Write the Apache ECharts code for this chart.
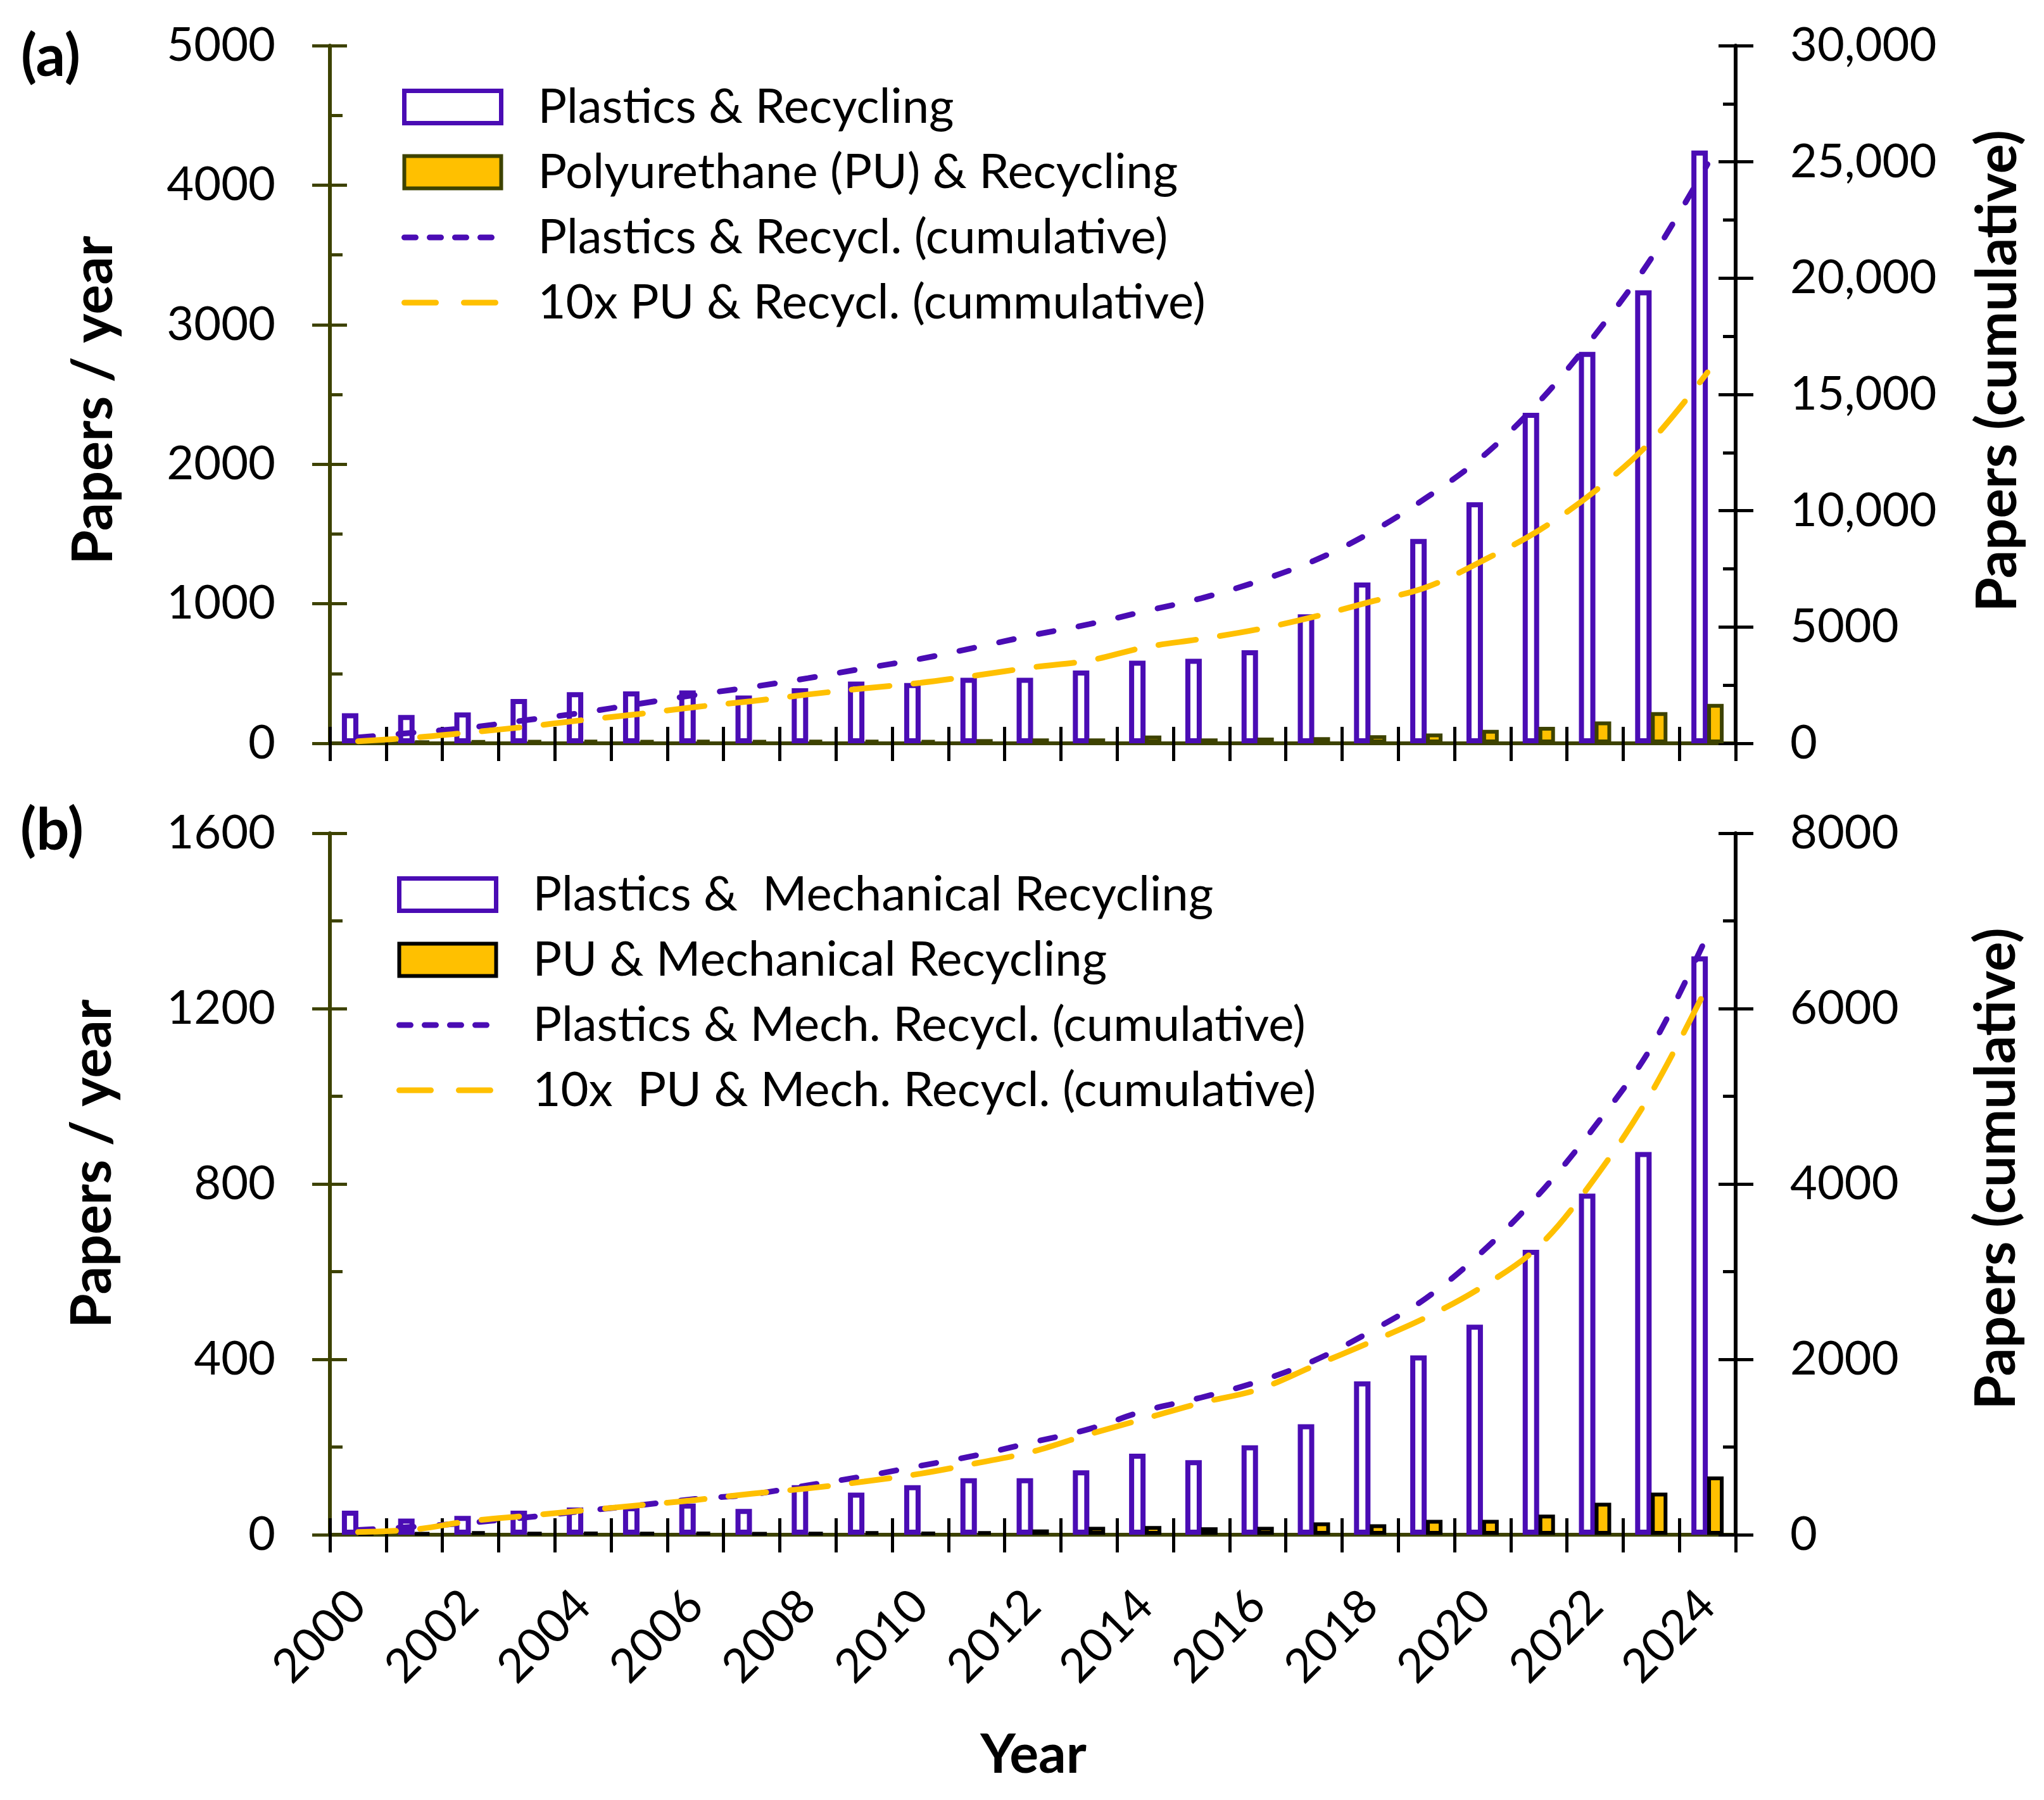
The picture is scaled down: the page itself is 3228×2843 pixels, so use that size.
<!DOCTYPE html>
<html><head><meta charset="utf-8">
<script src="https://cdn.jsdelivr.net/npm/echarts/dist/echarts.min.js"></script>
<style>html,body{margin:0;padding:0;background:#fff}#c{width:3228px;height:2843px}</style>
</head><body><div id="c"></div>
<script>
const years = ['2000','2001','2002','2003','2004','2005','2006','2007','2008','2009','2010','2011','2012','2013','2014','2015','2016','2017','2018','2019','2020','2021','2022','2023','2024'];

// Panel (a)
const plasticsRecycling = [215,203,221,318,366,372,379,342,395,442,432,470,470,522,592,606,667,925,1152,1464,1728,2368,2805,3246,4248];
const puRecycling = [10,15,20,22,25,22,26,22,25,24,22,30,35,35,56,35,41,44,58,70,96,118,156,224,282];
const plasticsRecyclingCum = [250,460,680,1000,1320,1700,2080,2420,2800,3220,3630,4130,4650,5120,5680,6240,6960,7850,9050,10560,12330,14670,17560,20850,24900];
const puRecyclingCum10 = [90,245,470,715,1000,1260,1560,1810,2100,2360,2600,2920,3270,3560,4130,4490,4900,5440,6080,6710,7850,9150,10850,13000,15950];

// Panel (b)
const plasticsMech = [55,37,43,55,62,65,71,59,113,96,113,129,129,147,185,170,204,252,350,409,479,650,778,873,1319];
const puMech = [3,4,8,5,6,5,6,4,5,8,6,8,12,18,20,17,18,28,24,34,34,46,73,96,133];
const plasticsMechCum = [55,90,138,198,270,336,408,460,564,666,786,906,1055,1205,1415,1565,1745,1985,2315,2700,3230,3880,4660,5560,6840];
const puMechCum10 = [30,60,156,216,276,336,396,468,528,606,696,816,948,1145,1325,1505,1655,1925,2195,2480,2830,3290,4070,5040,6260];

const names = {
  a1: 'Plastics & Recycling',
  a2: 'Polyurethane (PU) & Recycling',
  a3: 'Plastics & Recycl. (cumulative)',
  a4: '10x PU & Recycl. (cummulative)',
  b1: 'Plastics &  Mechanical Recycling',
  b2: 'PU & Mechanical Recycling',
  b3: 'Plastics & Mech. Recycl. (cumulative)',
  b4: '10x  PU & Mech. Recycl. (cumulative)'
};

const purple = '#4A0CB4', gold = '#FFC000', olive = '#3D4200', black = '#000';
const FF = 'Lato';
const chart = echarts.init(document.getElementById('c'), null, {renderer: 'canvas'});

function catAxes(gi, showLabels) {
  return [
    { type: 'category', gridIndex: gi, position: 'bottom', data: years, boundaryGap: true,
      axisLine: { show: true, lineStyle: { color: black, width: 6 } },
      axisTick: { show: true, inside: true, length: 26, interval: 0, lineStyle: { color: black, width: 5 } },
      axisLabel: showLabels ? { show: true, interval: 1, rotate: 45, margin: 100, fontFamily: FF, fontSize: 74, color: black, hideOverlap: false } : { show: false },
      splitLine: { show: false } },
    { type: 'category', gridIndex: gi, position: 'bottom', data: years, boundaryGap: true,
      axisLine: { show: false },
      axisTick: { show: true, inside: false, length: 28, interval: 0, lineStyle: { color: black, width: 5 } },
      axisLabel: { show: false }, splitLine: { show: false } },
    { type: 'category', gridIndex: gi, position: 'top', data: years, boundaryGap: true,
      axisLine: { show: true, lineStyle: { color: olive, width: 6 } },
      axisTick: { show: false }, axisLabel: { show: false }, splitLine: { show: false } }
  ];
}

function valAxes(gi, pos, max, interval, color, fmt) {
  return [
    { type: 'value', gridIndex: gi, position: pos, min: 0, max: max, interval: interval,
      axisLine: { show: true, lineStyle: { color: color, width: 6 } },
      axisTick: { show: true, inside: true, length: 27, lineStyle: { color: color, width: 5 } },
      minorTick: { show: true, splitNumber: 2, length: 20, lineStyle: { color: color, width: 5 } },
      axisLabel: { show: true, margin: 86, fontFamily: FF, fontSize: 74, color: black, formatter: fmt },
      splitLine: { show: false } },
    { type: 'value', gridIndex: gi, position: pos, min: 0, max: max, interval: interval,
      axisLine: { show: false },
      axisTick: { show: true, inside: false, length: 28, lineStyle: { color: color, width: 5 } },
      axisLabel: { show: false }, splitLine: { show: false } }
  ];
}

const fmtComma = v => v >= 10000 ? (v / 1000) + ',000' : String(v);
const fmtPlain = v => String(v);

const barW = 26;
function barSeries(name, data, xi, yi, fill, border, bw) {
  return { type: 'bar', name: name, data: data, xAxisIndex: xi, yAxisIndex: yi,
    barWidth: barW, barGap: '-4%',
    itemStyle: { color: fill, borderColor: border, borderWidth: bw },
    emphasis: { disabled: true }, z: 2 };
}
function lineSeries(name, data, xi, yi, color, dash) {
  return { type: 'line', name: name, data: data, xAxisIndex: xi, yAxisIndex: yi,
    smooth: 0.35, symbol: 'none',
    lineStyle: { color: color, width: 9, type: dash, cap: 'round' },
    itemStyle: { color: color },
    emphasis: { disabled: true }, z: 3 };
}

const legendText = { fontFamily: FF, fontSize: 76, color: black, padding: [0, 0, 0, 53] };
function legend(top, left, n1, n2, n3, n4, puBorder) {
  return { orient: 'vertical', left: left, top: top, padding: 0, itemWidth: 153, itemHeight: 51, itemGap: 27,
    selectedMode: false, textStyle: legendText,
    data: [
      { name: n1, icon: 'rect', itemStyle: { color: '#fff', borderColor: purple, borderWidth: 7 } },
      { name: n2, icon: 'rect', itemStyle: { color: gold, borderColor: puBorder, borderWidth: 6 } },
      { name: n3, itemStyle: { opacity: 0 }, lineStyle: { color: purple, width: 9, type: [18, 22], cap: 'round' } },
      { name: n4, itemStyle: { opacity: 0 }, lineStyle: { color: gold, width: 9, type: [50, 44], cap: 'round' } }
    ] };
}

function txt(x, y, text, size, rot) {
  return { type: 'text', x: x, y: y, rotation: rot || 0,
    style: { text: text, fontFamily: FF, fontSize: size, fontWeight: 'bold', fill: black, align: 'center', verticalAlign: 'middle' } };
}

const option = {
  backgroundColor: '#fff',
  animation: false,
  grid: [
    { left: 521, right: 487, top: 72, height: 1102, containLabel: false, outerBoundsMode: 'none' },
    { left: 521, right: 487, top: 1316, height: 1108, containLabel: false, outerBoundsMode: 'none' }
  ],
  xAxis: [].concat(catAxes(0, false), catAxes(1, true)),
  yAxis: [].concat(
    valAxes(0, 'left', 5000, 1000, olive, fmtPlain),
    valAxes(0, 'right', 30000, 5000, black, fmtComma),
    valAxes(1, 'left', 1600, 400, olive, fmtPlain),
    valAxes(1, 'right', 8000, 2000, black, fmtPlain)
  ),
  legend: [
    legend(131, 634, names.a1, names.a2, names.a3, names.a4, olive),
    legend(1375, 626, names.b1, names.b2, names.b3, names.b4, black)
  ],
  series: [
    barSeries(names.a1, plasticsRecycling, 0, 0, '#fff', purple, 8),
    barSeries(names.a2, puRecycling, 0, 0, gold, olive, 6),
    lineSeries(names.a3, plasticsRecyclingCum, 0, 2, purple, [24, 40]),
    lineSeries(names.a4, puRecyclingCum10, 0, 2, gold, [60, 38]),
    barSeries(names.b1, plasticsMech, 3, 4, '#fff', purple, 8),
    barSeries(names.b2, puMech, 3, 4, gold, black, 6),
    lineSeries(names.b3, plasticsMechCum, 3, 6, purple, [24, 40]),
    lineSeries(names.b4, puMechCum10, 3, 6, gold, [60, 38])
  ],
  graphic: [
    txt(80, 90, '(a)', 92),
    txt(82, 1312, '(b)', 92),
    txt(149, 632, 'Papers / year', 88, Math.PI / 2),
    txt(147, 1838, 'Papers / year', 88, Math.PI / 2),
    txt(3156, 586, 'Papers (cumulative)', 88, Math.PI / 2),
    txt(3154, 1846, 'Papers (cumulative)', 88, Math.PI / 2),
    txt(1632, 2772, 'Year', 86)
  ]
};
chart.setOption(option);
</script>
</body></html>
